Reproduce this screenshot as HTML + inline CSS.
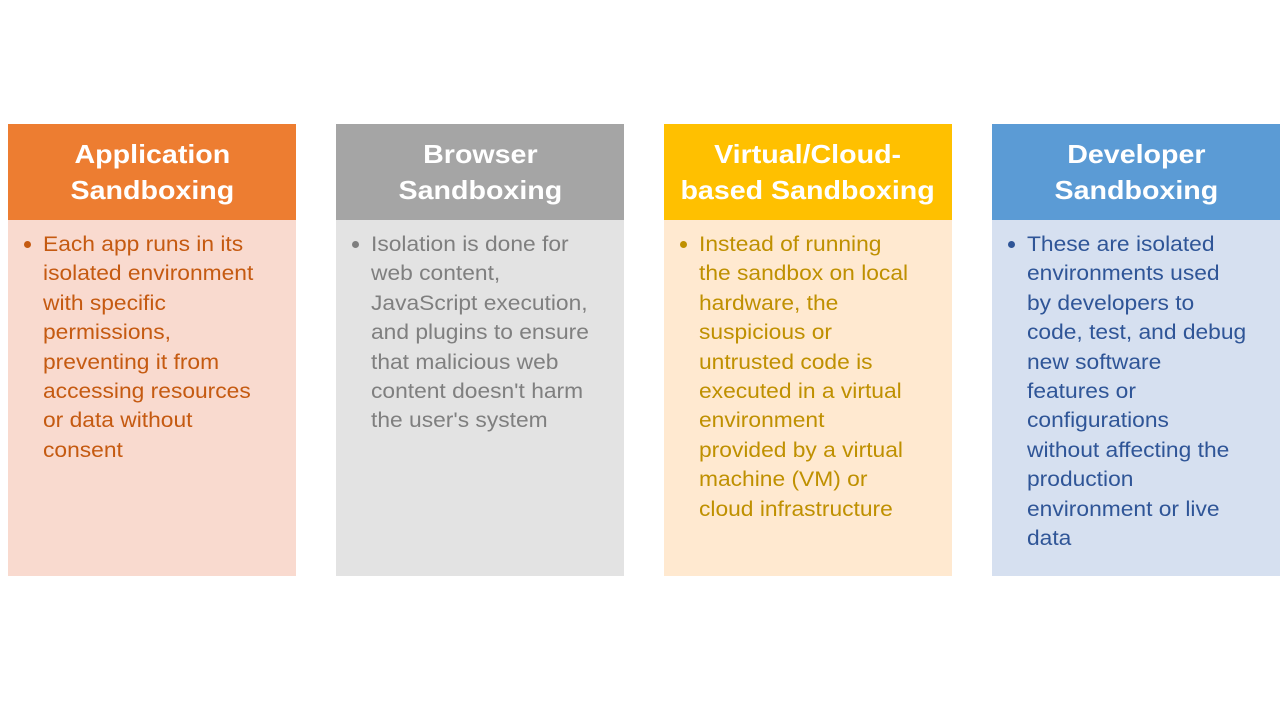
<!DOCTYPE html>
<html><head><meta charset="utf-8"><style>
body{margin:0;width:1280px;height:720px;background:#fff;position:relative;font-family:"Liberation Sans",sans-serif;overflow:hidden}
.col{position:absolute;top:124px;width:288px;height:452px}
.h{height:96px;color:#fff;font-weight:bold;font-size:26px;line-height:36px;text-align:center;display:flex;align-items:center;justify-content:center;white-space:nowrap}
.h span{display:inline-block;transform:scaleX(1.1)}
.b{height:356px;position:relative}
.t{position:absolute;left:35px;top:10px;font-size:21.5px;line-height:29.4px;white-space:nowrap;transform:scaleX(1.06);transform-origin:left top}
.d{position:absolute;left:16px;top:21px;width:7px;height:7px;border-radius:50%}
</style></head><body>
<div class="col" style="left:8px">
<div class="h" style="background:#ED7D31"><span>Application<br>Sandboxing</span></div>
<div class="b" style="background:#F9DACF"><div class="d" style="background:#C55A11"></div><div class="t" style="color:#C55A11">Each app runs in its<br>isolated environment<br>with specific<br>permissions,<br>preventing it from<br>accessing resources<br>or data without<br>consent</div></div>
</div>
<div class="col" style="left:336px">
<div class="h" style="background:#A5A5A5"><span>Browser<br>Sandboxing</span></div>
<div class="b" style="background:#E3E3E3"><div class="d" style="background:#7F7F7F"></div><div class="t" style="color:#7F7F7F">Isolation is done for<br>web content,<br>JavaScript execution,<br>and plugins to ensure<br>that malicious web<br>content doesn't harm<br>the user's system</div></div>
</div>
<div class="col" style="left:664px">
<div class="h" style="background:#FFC000"><span>Virtual/Cloud-<br>based Sandboxing</span></div>
<div class="b" style="background:#FFE9D0"><div class="d" style="background:#BF9000"></div><div class="t" style="color:#BF9000">Instead of running<br>the sandbox on local<br>hardware, the<br>suspicious or<br>untrusted code is<br>executed in a virtual<br>environment<br>provided by a virtual<br>machine (VM) or<br>cloud infrastructure</div></div>
</div>
<div class="col" style="left:992px">
<div class="h" style="background:#5B9BD5"><span>Developer<br>Sandboxing</span></div>
<div class="b" style="background:#D6E0F0"><div class="d" style="background:#2F5597"></div><div class="t" style="color:#2F5597">These are isolated<br>environments used<br>by developers to<br>code, test, and debug<br>new software<br>features or<br>configurations<br>without affecting the<br>production<br>environment or live<br>data</div></div>
</div>
</body></html>
